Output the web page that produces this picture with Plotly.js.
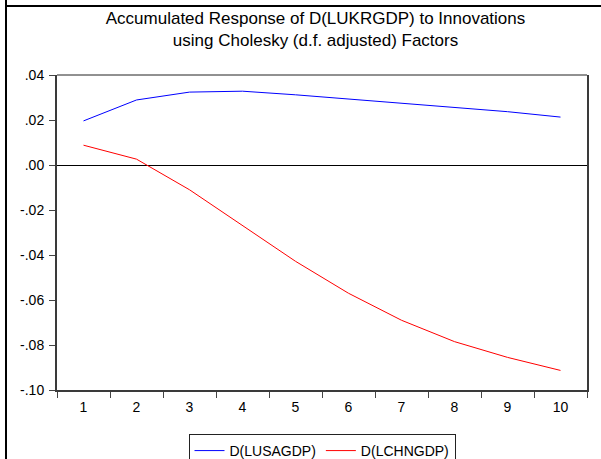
<!DOCTYPE html>
<html>
<head>
<meta charset="utf-8">
<script src="https://cdn.plot.ly/plotly-3.0.1.min.js"></script>
<style>
html,body{margin:0;padding:0;background:#fff;}
#frameL{position:absolute;left:5px;top:0;width:2px;height:459px;background:#000;}
#frameT{position:absolute;left:5px;top:5px;width:596px;height:2px;background:#000;}
#chart{position:absolute;left:0;top:0;width:601px;height:459px;}
</style>
</head>
<body>
<div id="frameL"></div>
<div id="frameT"></div>
<div id="chart"></div>
<script>
const periods = ['1','2','3','4','5','6','7','8','9','10'];
const usaResponse = [0.0196, 0.0289, 0.0324, 0.0328, 0.0312, 0.0293, 0.0274, 0.0254, 0.0237, 0.0213];
const chnResponse = [0.0088, 0.0026, -0.0110, -0.0270, -0.0428, -0.0570, -0.0690, -0.0785, -0.0855, -0.0913];
const yTickVals = [-0.10, -0.08, -0.06, -0.04, -0.02, 0.00, 0.02, 0.04];
const yTickText = ['-.10', '-.08', '-.06', '-.04', '-.02', '.00', '.02', '.04'];

const font = {family: '"Liberation Sans", Arial, Helvetica, sans-serif', color: '#000'};

const traces = [
  {x: periods, y: usaResponse, type: 'scatter', mode: 'lines', name: 'D(LUSAGDP)',
   line: {color: '#0000ff', width: 1}},
  {x: periods, y: chnResponse, type: 'scatter', mode: 'lines', name: 'D(LCHNGDP)',
   line: {color: '#ff0000', width: 1}}
];

const layout = {
  width: 601, height: 459,
  margin: {l: 57, r: 14, t: 75, b: 69},
  paper_bgcolor: 'rgba(0,0,0,0)',
  plot_bgcolor: '#fff',
  font: Object.assign({size: 14}, font),
  title: {
    text: 'Accumulated Response of D(LUKRGDP) to Innovations<br>using Cholesky (d.f. adjusted) Factors',
    font: Object.assign({size: 17}, font),
    x: 0.525, xanchor: 'center', y: 0.947, yanchor: 'middle'
  },
  xaxis: {
    type: 'category',
    range: [-0.5, 9.5],
    tickson: 'boundaries',
    ticks: 'outside', ticklen: 6, tickcolor: '#444', tickwidth: 1,
    ticklabelstandoff: 3,
    showline: true, linecolor: '#3a3a3a', linewidth: 2,
    showgrid: false, zeroline: false,
    tickfont: Object.assign({size: 14}, font),
    fixedrange: true
  },
  yaxis: {
    range: [-0.10, 0.04],
    tickvals: yTickVals, ticktext: yTickText,
    ticks: 'outside', ticklen: 6, tickcolor: '#444', tickwidth: 1,
    ticklabelstandoff: 2,
    showline: true, linecolor: '#3a3a3a', linewidth: 2, mirror: true,
    showgrid: false,
    zeroline: true, zerolinecolor: '#000', zerolinewidth: 1,
    tickfont: Object.assign({size: 14}, font),
    fixedrange: true
  },
  shapes: [
    {type: 'line', xref: 'paper', yref: 'paper', x0: 0, x1: 1, y0: 1, y1: 1,
     line: {color: '#222', width: 1}}
  ],
  showlegend: true,
  legend: {
    orientation: 'h', x: 0.5, xanchor: 'center',
    yref: 'container', y: 0.0545, yanchor: 'top',
    bordercolor: '#222', borderwidth: 1, bgcolor: '#fff',
    font: Object.assign({size: 14}, font)
  }
};

Plotly.newPlot('chart', traces, layout, {displayModeBar: false, staticPlot: true});
</script>
</body>
</html>
